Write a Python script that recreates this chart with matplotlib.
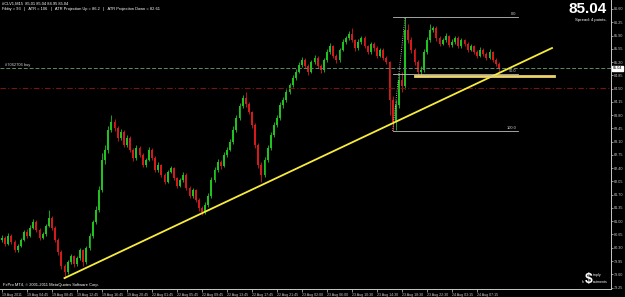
import numpy as np
import matplotlib.pyplot as plt

# #CLV1,M15 candles (open = previous close)
first_open = 80.50
closes = [80.56, 80.40, 80.61, 80.45, 80.24, 80.35, 80.51, 80.72, 80.61, 80.83,
          80.98, 80.77, 80.56, 80.66, 80.88, 81.09, 80.83, 80.51, 80.19, 79.82,
          79.66, 79.92, 80.08, 79.87, 80.03, 80.24, 79.92, 80.29, 80.61, 80.98,
          81.30, 81.82, 82.62, 82.88, 83.41, 83.62, 83.46, 83.20, 83.35, 83.01,
          83.20, 82.88, 82.67, 82.93, 82.75, 82.48, 82.62, 82.88, 82.67, 82.35,
          82.48, 82.22, 82.04, 82.30, 82.40, 82.14, 81.93, 82.09, 82.22, 81.88,
          81.67, 81.82, 81.56, 81.35, 81.24, 81.43, 81.67, 82.09, 82.35, 82.56,
          82.46, 82.75, 82.88, 83.09, 83.41, 83.72, 84.04, 84.25, 84.09, 83.88,
          83.54, 83.01, 82.48, 82.22, 82.62, 82.93, 83.28, 83.54, 83.72, 84.07,
          84.20, 84.41, 84.59, 84.78, 84.94, 85.12, 85.25, 85.10, 84.94, 85.20,
          85.31, 85.10, 84.99, 85.25, 85.47, 85.62, 85.36, 85.25, 85.52, 85.73,
          85.83, 85.94, 85.78, 85.57, 85.73, 85.83, 85.62, 85.47, 85.68, 85.57,
          85.36, 85.52, 85.31, 85.20, 84.20, 83.62, 84.07, 84.73, 84.57, 86.05,
          85.78, 85.52, 85.20, 84.94, 84.99, 85.47, 85.78, 86.05, 86.10, 85.83,
          85.68, 85.78, 85.89, 85.65, 85.73, 85.83, 85.62, 85.78, 85.68, 85.52,
          85.62, 85.47, 85.36, 85.52, 85.41, 85.31, 85.47, 85.25, 85.15, 85.04]
highs = [80.64, 80.62, 80.68, 80.66, 80.50, 80.41, 80.56, 80.78, 80.80, 80.90,
         81.06, 81.02, 80.81, 80.72, 80.94, 81.30, 81.14, 80.88, 80.56, 80.24,
         79.88, 79.98, 80.14, 80.12, 80.09, 80.30, 80.28, 80.35, 80.68, 81.04,
         81.40, 81.92, 82.80, 83.00, 83.52, 83.80, 83.70, 83.52, 83.44, 83.40,
         83.28, 83.25, 82.93, 83.00, 82.98, 82.80, 82.68, 82.95, 82.92, 82.72,
         82.55, 82.52, 82.27, 82.36, 82.47, 82.44, 82.18, 82.15, 82.30, 82.26,
         81.92, 81.88, 81.86, 81.60, 81.40, 81.50, 81.74, 82.16, 82.42, 82.64,
         82.62, 82.82, 82.96, 83.16, 83.50, 83.80, 84.12, 84.34, 84.41, 84.14,
         83.92, 83.60, 83.06, 82.55, 82.70, 83.00, 83.36, 83.62, 83.80, 84.14,
         84.28, 84.48, 84.66, 84.86, 85.02, 85.20, 85.34, 85.30, 85.14, 85.26,
         85.38, 85.35, 85.14, 85.30, 85.54, 85.70, 85.66, 85.40, 85.58, 85.80,
         85.90, 86.02, 86.10, 85.82, 85.80, 85.90, 85.88, 85.66, 85.74, 85.72,
         85.62, 85.58, 85.56, 85.36, 85.24, 84.30, 84.20, 84.90, 84.95, 86.39,
         86.20, 85.86, 85.58, 85.26, 85.10, 85.54, 85.86, 86.20, 86.16, 86.14,
         85.88, 85.84, 85.96, 85.92, 85.80, 85.90, 85.88, 85.84, 85.82, 85.72,
         85.68, 85.66, 85.52, 85.60, 85.56, 85.46, 85.54, 85.50, 85.30, 85.20]
lows = [80.44, 80.35, 80.37, 80.40, 80.19, 80.20, 80.31, 80.48, 80.56, 80.58,
        80.79, 80.72, 80.50, 80.52, 80.62, 80.84, 80.78, 80.45, 80.12, 79.75,
        79.50, 79.60, 79.88, 79.80, 79.83, 79.98, 79.82, 79.88, 80.25, 80.56,
        80.92, 81.25, 81.76, 82.50, 82.80, 83.35, 83.38, 83.12, 83.14, 82.95,
        82.96, 82.82, 82.60, 82.62, 82.70, 82.42, 82.44, 82.58, 82.62, 82.30,
        82.30, 82.16, 81.98, 82.00, 82.26, 82.08, 81.88, 81.89, 82.04, 81.82,
        81.60, 81.62, 81.50, 81.28, 81.16, 81.20, 81.38, 81.62, 82.04, 82.30,
        82.38, 82.42, 82.70, 82.84, 83.04, 83.36, 83.66, 84.00, 84.02, 83.82,
        83.46, 82.94, 82.40, 82.04, 82.16, 82.56, 82.88, 83.22, 83.48, 83.66,
        84.00, 84.15, 84.36, 84.54, 84.72, 84.90, 85.06, 85.04, 84.86, 84.90,
        85.15, 85.04, 84.92, 84.95, 85.20, 85.42, 85.30, 85.18, 85.20, 85.48,
        85.68, 85.78, 85.72, 85.50, 85.52, 85.68, 85.56, 85.40, 85.42, 85.50,
        85.30, 85.32, 85.26, 85.14, 83.80, 83.38, 83.41, 84.00, 84.40, 84.50,
        85.70, 85.44, 85.12, 84.83, 84.83, 84.95, 85.42, 85.72, 85.98, 85.76,
        85.62, 85.64, 85.74, 85.60, 85.60, 85.68, 85.56, 85.58, 85.62, 85.46,
        85.48, 85.42, 85.30, 85.32, 85.36, 85.26, 85.28, 85.20, 85.10, 84.95]

x_labels = ['19 Aug 2011', '19 Aug 04:45', '19 Aug 08:45', '19 Aug 12:45', '19 Aug 16:45',
            '19 Aug 20:45', '22 Aug 01:45', '22 Aug 05:45', '22 Aug 09:45', '22 Aug 13:45',
            '22 Aug 17:45', '22 Aug 21:45', '23 Aug 02:00', '23 Aug 06:00', '23 Aug 10:30',
            '23 Aug 14:30', '23 Aug 18:30', '23 Aug 22:30', '24 Aug 03:15', '24 Aug 07:15']
y_ticks = [79.25, 79.60, 79.95, 80.30, 80.65, 81.00, 81.35, 81.70, 82.05, 82.40, 82.75,
           83.10, 83.45, 83.80, 84.15, 84.50, 84.85, 85.20, 85.55, 85.90, 86.25, 86.60]

# objects on the chart
trend_bars = [20, 176]
trend_prices = [79.50, 85.57]
support_bars = [132, 176.5]
support_price = 84.83
fib_bars = [125, 129, 165]       # low bar, high bar, right end
fib_low, fib_high = 83.38, 86.39
order_price = 85.03
stop_price = 84.51
last_price = 85.04

UP = '#1fc21f'
DOWN = '#d41a1a'
FS = 2.9


def main():
    plt.rcParams['font.family'] = ['Liberation Sans', 'DejaVu Sans']

    c = np.array(closes)
    o = np.concatenate([[first_open], c[:-1]])
    h = np.array(highs)
    l = np.array(lows)
    idx = np.arange(len(c))
    col = np.where(c >= o, UP, DOWN)

    fig = plt.figure(figsize=(6.25, 2.97), dpi=100, facecolor='black')
    ax = fig.add_axes([0, 8 / 297, 611 / 625, 289 / 297])
    ax.set_facecolor('black')

    # candles
    ax.vlines(idx, l, h, colors=col, lw=0.6)
    body = np.maximum(np.abs(c - o), 0.015)
    ax.bar(idx, body, bottom=np.minimum(o, c), width=0.6, color=col, lw=0)

    # order / stop lines
    ax.axhline(order_price, color='#5e8c68', lw=0.7, ls=(0, (4, 2)))
    ax.axhline(stop_price, color='#7a1414', lw=0.8, ls=(0, (5, 2, 1, 2)))
    ax.text(1, order_price + 0.03, '#7062706 buy', color='#d0d0d0', fontsize=FS, va='bottom')

    # fibo
    fib_mid = (fib_low + fib_high) / 2
    for lev, name in [(fib_high, '0.0'), (fib_mid, '50.0'), (fib_low, '100.0')]:
        ax.plot([fib_bars[0], fib_bars[2]], [lev, lev], color='#bdbdbd', lw=0.6)
        ax.text(fib_bars[2] - 0.5, lev + 0.02, name, color='#d0d0d0', fontsize=FS,
                ha='right', va='bottom')
    ax.plot([fib_bars[0], fib_bars[1]], [fib_low, fib_high], color='#dddddd', lw=0.6, ls=':')

    # trend line + horizontal support
    ax.plot(trend_bars, trend_prices, color='#f7ec3c', lw=1.3)
    ax.plot(support_bars, [support_price, support_price], color='#ecd46a', lw=2.0)

    ax.set_xlim(-0.64, 194.88)
    ax.set_ylim(79.212, 86.837)

    ax.set_xticks(np.arange(len(x_labels)) * 8)
    ax.set_xticklabels(x_labels, ha='left')
    ax.set_yticks(y_ticks)
    ax.set_yticklabels(['%.2f' % v for v in y_ticks])
    ax.yaxis.tick_right()
    ax.tick_params(axis='x', colors='#c8c8c8', labelsize=2.65, length=2, width=0.5, pad=0.8)
    ax.tick_params(axis='y', colors='#c8c8c8', labelsize=2.7, length=1.5, width=0.5, pad=0.6)
    for s in ['top', 'left']:
        ax.spines[s].set_visible(False)
    for s in ['right', 'bottom']:
        ax.spines[s].set_color('#c8c8c8')
        ax.spines[s].set_linewidth(0.7)

    # current price box on the scale
    ax.text(1.003, last_price, '%.2f' % last_price, transform=ax.get_yaxis_transform(),
            fontsize=2.7, color='black', va='center', ha='left',
            bbox=dict(boxstyle='square,pad=0.15', fc='white', ec='white'))

    # texts
    fig.text(2 / 625, 1 - 4 / 297, '#CLV1,M15  85.01 85.04 84.95 85.04', color='white',
             fontsize=FS, va='center')
    fig.text(2 / 625, 1 - 9 / 297,
             'Fibby = 93   |   ATR = 106   |   ATR Projection Up = 86.2   |   ATR Projection Down = 82.61',
             color='white', fontsize=FS, va='center')
    fig.text(607 / 625, 1 - 9 / 297, '%.2f' % last_price, color='white', fontsize=11,
             fontweight='bold', family=['Liberation Sans Narrow', 'Liberation Sans', 'DejaVu Sans'],
             ha='right', va='center')
    fig.text(607 / 625, 1 - 20 / 297, 'Spread: 4 points.', color='white', fontsize=FS + 0.2,
             ha='right', va='center')
    fig.text(3 / 625, 1 - 285 / 297, 'FxPro MT4, \u00a9 2001-2011 MetaQuotes Software Corp.',
             color='white', fontsize=FS, va='center')

    # logo
    fig.text(589 / 625, 1 - 279 / 297, '$', color='white', fontsize=10, fontweight='bold',
             ha='center', va='center')
    fig.text(593 / 625, 1 - 275 / 297, 'imply', color='white', fontsize=2.6, va='center')
    fig.text(585 / 625, 1 - 282 / 297, 'In', color='white', fontsize=2.6, va='center', ha='right')
    fig.text(593 / 625, 1 - 282 / 297, 'estments', color='white', fontsize=2.6, va='center')

    fig.savefig('out.png', dpi=100, facecolor='black')


if __name__ == '__main__':
    main()
